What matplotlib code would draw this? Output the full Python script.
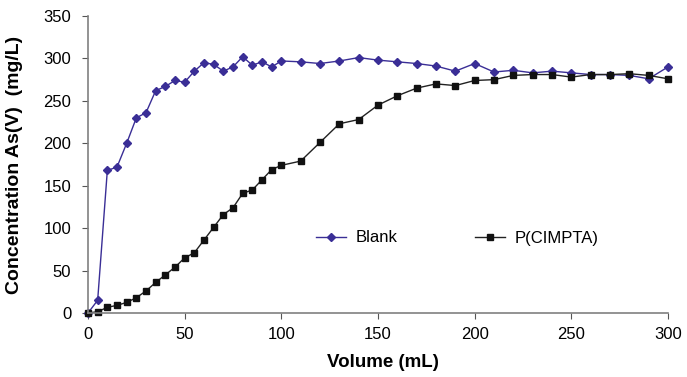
import matplotlib
matplotlib.use("Agg")
import matplotlib.pyplot as plt
import numpy as np

plt.rcParams['font.family'] = ['Liberation Sans', 'DejaVu Sans']

vol_blank = list(range(0, 101, 5)) + list(range(110, 301, 10))
blank = [0, 15, 168, 172, 200, 230, 236, 262, 267, 274, 272, 285, 295, 293, 285, 290, 302, 292, 296, 290, 297,
         296, 294, 297, 301, 298, 296, 294, 291, 285, 294, 284, 286, 283, 285, 283, 281, 281, 280, 276, 290]

vol_p = list(range(0, 101, 5)) + list(range(110, 301, 10))
pcimpta = [0, 1.5, 6.7, 9, 12.5, 18, 26, 36, 45, 54, 65, 71, 86, 101, 116, 124, 141, 145, 157, 169, 174,
           179, 201, 223, 228, 245, 256, 265, 270, 268, 274, 275, 280, 281, 281, 278, 281, 281, 282, 280, 276]

fig = plt.figure(figsize=(6.87, 3.77), dpi=100)
ax = fig.add_axes([88/687, 1-313/377, 580/687, 297/377])

ax.plot(vol_blank, blank, color='#3a2e96', marker='D', markersize=4.5, lw=1.0, label='Blank', clip_on=False)
ax.plot(vol_p, pcimpta, color='#222222', marker='s', markersize=4.5, lw=1.0,
        markerfacecolor='#111111', markeredgecolor='#111111', label='P(CIMPTA)', clip_on=False)

ax.set_xlim(0, 300)
ax.set_ylim(0, 350)
ax.set_xticks(np.arange(0, 301, 50))
ax.set_yticks(np.arange(0, 351, 50))
for s in ['top', 'right']:
    ax.spines[s].set_visible(False)
for s in ['left', 'bottom']:
    ax.spines[s].set_color('#808080')
    ax.spines[s].set_linewidth(1.2)
ax.tick_params(direction='out', length=4, color='#555555', labelsize=12)
ax.tick_params(axis='x', pad=6)
ax.tick_params(axis='y', pad=8)

ax.set_xlabel('Volume (mL)', fontsize=13.5, fontweight='bold')
ax.set_ylabel('Concentration As(V)  (mg/L)', fontsize=14, fontweight='bold')
ax.xaxis.set_label_coords(0.508, -0.138)
ax.yaxis.set_label_coords(-0.112, 0.5)

fig.legend(loc='center left', bbox_to_anchor=(301/687, 1-238/377), ncol=2, frameon=False,
           fontsize=12, handlelength=1.8, columnspacing=4.6, handletextpad=0.6)

fig.savefig('out.png', dpi=100)
